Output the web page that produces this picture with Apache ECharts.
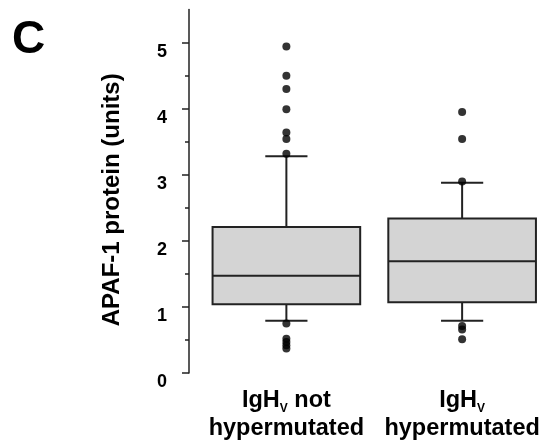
<!DOCTYPE html>
<html>
<head>
<meta charset="utf-8">
<script src="https://cdn.jsdelivr.net/npm/echarts@6/dist/echarts.min.js"></script>
<style>html,body{margin:0;padding:0;background:#fff}#c{width:550px;height:441px}</style>
</head>
<body>
<div id="c"></div>
<script>
// ---- data ----
var categories = ['IgH_V not hypermutated', 'IgH_V hypermutated'];
var lowerWhisker = [0.79, 0.79];
var q1 = [1.04, 1.07];
var median = [1.47, 1.69];
var q3 = [2.21, 2.34];
var upperWhisker = [3.28, 2.88];
var outliersNotHyper = [4.94, 4.50, 4.30, 3.99, 3.64, 3.54, 3.32, 0.75, 0.52, 0.47, 0.42, 0.37];
var outliersHyper = [3.95, 3.54, 2.90, 0.71, 0.66, 0.51];
var yMajorTicks = [0, 1, 2, 3, 4, 5];
var yMinorTicks = [0.5, 1.5, 2.5, 3.5, 4.5];

// ---- build ----
var boxData = categories.map(function (c, i) {
  return [i, lowerWhisker[i], q1[i], median[i], q3[i], upperWhisker[i]];
});
var outlierData = [];
outliersNotHyper.forEach(function (v) { outlierData.push([0, v]); });
outliersHyper.forEach(function (v) { outlierData.push([1, v]); });

var FONT = "'Liberation Sans', Arial, Helvetica, sans-serif";
var LINE = '#222';

function renderBox(params, api) {
  var i = api.value(0);
  var lo = api.coord([i, api.value(1)]);
  var b1 = api.coord([i, api.value(2)]);
  var md = api.coord([i, api.value(3)]);
  var b3 = api.coord([i, api.value(4)]);
  var hi = api.coord([i, api.value(5)]);
  var band = api.size([1, 0])[0];
  var bw = band * 0.84;
  var cw = band * 0.24;
  var cx = md[0];
  var st = { stroke: LINE, lineWidth: 2, fill: null };
  return {
    type: 'group',
    children: [
      { type: 'line', shape: { x1: cx, y1: hi[1], x2: cx, y2: b3[1] }, style: st },
      { type: 'line', shape: { x1: cx, y1: b1[1], x2: cx, y2: lo[1] }, style: st },
      { type: 'line', shape: { x1: cx - cw / 2, y1: hi[1], x2: cx + cw / 2, y2: hi[1] }, style: st },
      { type: 'line', shape: { x1: cx - cw / 2, y1: lo[1], x2: cx + cw / 2, y2: lo[1] }, style: st },
      { type: 'rect', shape: { x: cx - bw / 2, y: b3[1], width: bw, height: b1[1] - b3[1] },
        style: { fill: '#d4d4d4', stroke: LINE, lineWidth: 2 } },
      { type: 'line', shape: { x1: cx - bw / 2, y1: md[1], x2: cx + bw / 2, y2: md[1] }, style: st }
    ]
  };
}

var chart = echarts.init(document.getElementById('c'), null, { renderer: 'canvas' });
chart.setOption({
  animation: false,
  backgroundColor: '#fff',
  title: {
    text: 'C', left: 7, top: 12,
    textStyle: { fontFamily: FONT, fontSize: 46, fontWeight: 'bold', color: '#000' }
  },
  grid: { left: 198.5, right: -10.5, top: 9.6, bottom: 67.5, containLabel: false },
  xAxis: {
    type: 'category',
    data: categories,
    axisLine: { show: false },
    axisTick: { show: false },
    axisLabel: {
      margin: 14,
      formatter: function (v) {
        if (v.indexOf('not') >= 0) return '{a|IgH}{s|V}{a| not}\n{a|hypermutated}';
        return '{a|IgH}{s|V}\n{a|hypermutated}';
      },
      rich: {
        a: { fontFamily: FONT, fontSize: 23.5, fontWeight: 'bold', color: '#000', lineHeight: 28 },
        s: { fontFamily: FONT, fontSize: 12, fontWeight: 'bold', color: '#000', lineHeight: 13, verticalAlign: 'bottom' }
      }
    }
  },
  yAxis: [{
    type: 'value', min: 0, max: 5.5, offset: 9.5,
    name: 'APAF-1 protein (units)',
    nameLocation: 'middle', nameGap: 65,
    nameTextStyle: { fontFamily: FONT, fontSize: 24, fontWeight: 'bold', color: '#000', padding: [0, 17, 0, 0] },
    splitLine: { show: false },
    axisLine: { show: true, lineStyle: { color: LINE, width: 1.5 } },
    axisTick: { show: true, length: 7, customValues: yMajorTicks, lineStyle: { color: LINE, width: 1.5 } },
    axisLabel: { customValues: yMajorTicks, margin: 22, verticalAlign: 'top', lineHeight: 18, fontFamily: FONT, fontSize: 18, fontWeight: 'bold', color: '#000' }
  }, {
    type: 'value', min: 0, max: 5.5, offset: 9.5, position: 'left',
    splitLine: { show: false },
    axisLine: { show: false },
    axisTick: { show: true, length: 4, customValues: yMinorTicks, lineStyle: { color: LINE, width: 1.5 } },
    axisLabel: { show: false }
  }],
  series: [{
    type: 'custom',
    renderItem: renderBox,
    encode: { x: 0, y: [1, 2, 3, 4, 5] },
    data: boxData,
    z: 2
  }, {
    type: 'scatter',
    data: outlierData,
    symbol: 'circle',
    symbolSize: 8,
    itemStyle: { color: '#000' },
    z: 3
  }]
});
</script>
</body>
</html>
